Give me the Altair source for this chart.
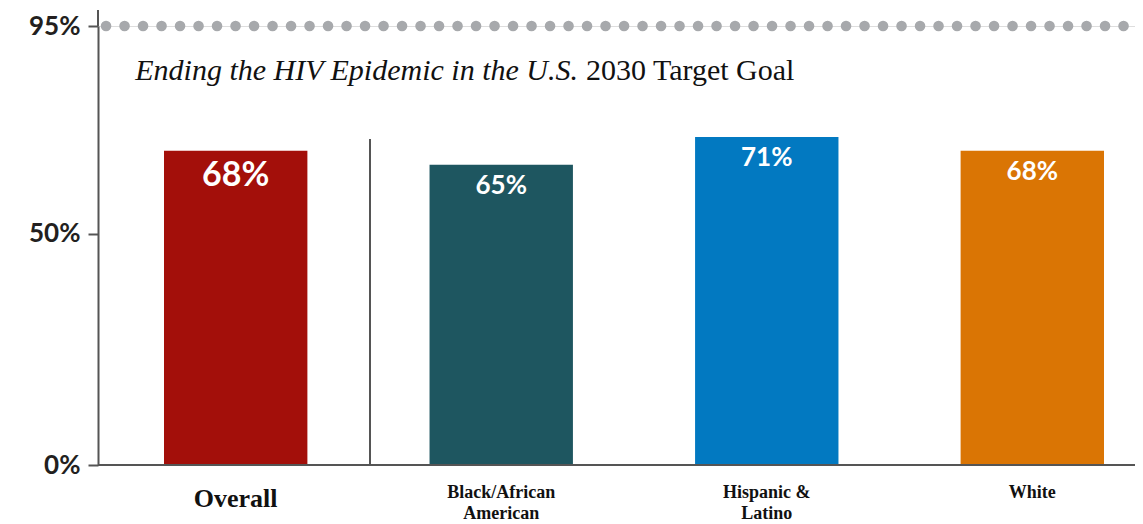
import altair as alt
import pandas as pd

categories = ["Overall", "Black/African American", "Hispanic & Latino", "White"]
axis_labels = ["Overall", "Black/African\nAmerican", "Hispanic &\nLatino", "White"]
values = [68, 65, 71, 68]
value_labels = ["68%", "65%", "71%", "68%"]
bar_colors = ["#a30f0a", "#1e5660", "#0279c1", "#da7504"]
target = [95]
y_ticks = [0, 50, 95]
title_italic = "Ending the HIV Epidemic in the U.S."
title_roman = "2030 Target Goal"

W, H = 1037, 439
TOP = 18

df = pd.DataFrame({"cat": categories, "value": values, "label": value_labels,
                   "axis_label": axis_labels})
tdf = pd.DataFrame({"target": target})
titledf = pd.DataFrame({"t1": [title_italic], "t2": [title_roman]})

xscale = alt.Scale(domain=categories, range=[66, 1006], paddingInner=0.46, paddingOuter=0)
yscale = alt.Scale(domain=[0, 95], nice=False, zero=True)
yaxis = alt.Axis(values=y_ticks, labelExpr="datum.value + '%'", title=None, grid=False,
                 domainColor="#555555", domainWidth=2, tickColor="#555555", tickWidth=2,
                 tickSize=10, labelPadding=8, labelFont="Lato", labelFontSize=26,
                 labelFontWeight="bold", labelColor="#231f20")

X = alt.X("cat:N", scale=xscale, axis=None, sort=categories)
Y = alt.Y("value:Q", scale=yscale, axis=yaxis)

base = alt.Chart(df)

target_rule = alt.Chart(tdf).mark_rule(
    color="#a7a9ac", strokeWidth=10.5, strokeDash=[0.1, 18.4], strokeCap="round"
).encode(y=alt.Y("target:Q", scale=yscale, axis=yaxis), x=alt.value(8), x2=alt.value(W))

axis_ext = alt.Chart(tdf).mark_rule(color="#555555", strokeWidth=2).encode(
    x=alt.value(0), y=alt.value(-16), y2=alt.value(0))

divider = alt.Chart(tdf).mark_rule(color="#555555", strokeWidth=2).encode(
    x=alt.value(272), y=alt.value(139 - 8 - TOP), y2=alt.value(H))

bars = base.mark_bar().encode(
    x=X, y=Y,
    color=alt.Color("cat:N", scale=alt.Scale(domain=categories, range=bar_colors), legend=None),
)

baseline = alt.Chart(tdf).mark_rule(color="#555555", strokeWidth=2).encode(
    y=alt.Y("datum_zero:Q", scale=yscale, axis=yaxis), x=alt.value(0), x2=alt.value(W)
).transform_calculate(datum_zero="0")

vt_overall = base.transform_filter(alt.datum.cat == "Overall").mark_text(
    color="white", font="Lato", fontWeight="bold", fontSize=34, baseline="middle", dy=25
).encode(x=X, y=Y, text="label:N")

vt_others = base.transform_filter(alt.datum.cat != "Overall").mark_text(
    color="white", font="Lato", fontWeight="bold", fontSize=26, baseline="middle", dy=21
).encode(x=X, y=Y, text="label:N")

xl_overall = base.transform_filter(alt.datum.cat == "Overall").mark_text(
    color="#111111", font="Liberation Serif", fontWeight="bold", fontSize=26, baseline="top"
).encode(x=X, y=alt.value(H + 21), text="axis_label:N")

xl_others = base.transform_filter(alt.datum.cat != "Overall").mark_text(
    color="#111111", font="Liberation Serif", fontWeight="bold", fontSize=18, baseline="top",
    lineBreak="\n", lineHeight=21
).encode(x=X, y=alt.value(H + 19), text="axis_label:N")

t1 = alt.Chart(titledf).mark_text(
    font="Liberation Serif", fontStyle="italic", fontSize=30, align="right",
    baseline="alphabetic", color="#111111"
).encode(x=alt.value(480), y=alt.value(80 - 8 - TOP), text="t1:N")

t2 = alt.Chart(titledf).mark_text(
    font="Liberation Serif", fontSize=30, align="left",
    baseline="alphabetic", color="#111111"
).encode(x=alt.value(488), y=alt.value(80 - 8 - TOP), text="t2:N")

chart = alt.layer(
    target_rule, axis_ext, divider, bars, baseline, vt_overall, vt_others,
    xl_overall, xl_others, t1, t2
).properties(
    width=W, height=H,
    autosize=alt.AutoSizeParams(type="none"),
    padding={"left": 90, "top": TOP, "right": 0, "bottom": 516 - TOP - H},
).configure_view(stroke=None).configure(background="white")

chart.save("out.html", embed_options={"renderer": "svg", "actions": False})
